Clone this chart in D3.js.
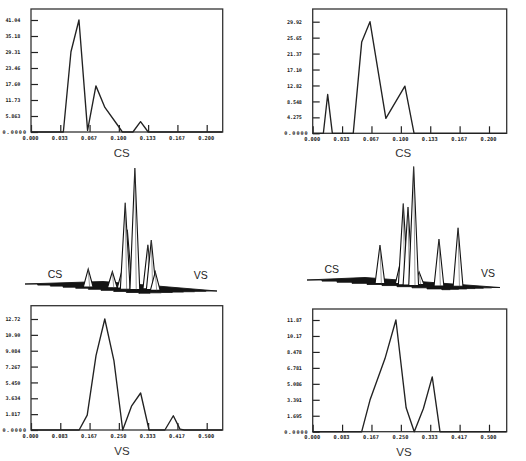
<!DOCTYPE html>
<html><head><meta charset="utf-8">
<script src="https://cdn.jsdelivr.net/npm/d3@7"></script>
<style>body{margin:0;background:#fff}svg{display:block}</style>
</head><body>
<svg id="c" width="526" height="461"></svg>
<script>
// ---------- data ----------
const csTickLabels = ["0.000","0.033","0.067","0.100","0.133","0.167","0.200"];
const vsTickLabels = ["0.000","0.083","0.167","0.250","0.333","0.417","0.500"];
const csTickValues = [0, 1/30, 2/30, 3/30, 4/30, 5/30, 6/30];
const vsTickValues = [0, 1/12, 2/12, 3/12, 4/12, 5/12, 6/12];

const yLabelsTL = ["0.0000","5.863","11.73","17.60","23.46","29.31","35.18","41.04"];
const yLabelsTR = ["0.0000","4.275","8.548","12.82","17.10","21.37","25.65","29.92"];
const yLabelsBL = ["0.0000","1.817","3.634","5.450","7.267","9.084","10.90","12.72"];
const yLabelsBR = ["0.0000","1.695","3.391","5.086","6.781","8.478","10.17","11.87"];

// CS distribution, left sample
const csLeftX = [0, 0.0368, 0.0455, 0.0546, 0.0644, 0.0739, 0.0841, 0.0993, 0.1040, 0.1160, 0.1247, 0.1334, 0.2180];
const csLeftY = [0, 0, 29.4, 41.04, 0.6, 16.9, 9.0, 2.2, 0, 0, 3.8, 0, 0];
// CS distribution, right sample
const csRightX = [0, 0.0121, 0.0170, 0.0223, 0.0460, 0.0556, 0.0650, 0.0830, 0.1046, 0.1150, 0.2200];
const csRightY = [0, 0, 10.4, 0, 0, 24.5, 29.92, 4.0, 12.65, 0, 0];
// VS distribution, left sample
const vsLeftX = [0, 0.137, 0.160, 0.185, 0.210, 0.236, 0.261, 0.286, 0.312, 0.336, 0.381, 0.405, 0.424, 0.436, 0.545];
const vsLeftY = [0, 0, 1.70, 8.52, 12.72, 7.95, 0, 2.73, 4.24, 0, 0, 1.63, 0.1, 0, 0];
// VS distribution, right sample
const vsRightX = [0, 0.139, 0.1625, 0.205, 0.236, 0.265, 0.288, 0.314, 0.339, 0.361, 0.550];
const vsRightY = [0, 0, 3.36, 7.77, 11.87, 2.54, 0, 2.47, 5.83, 0, 0];

// joint CS x VS peaks (3D views)
const jointLeftCS = [0.076, 0.100, 0.111, 0.132, 0.133, 0.143, 0.138, 0.152, 0.167];
const jointLeftVS = [0.164, 0.245, 0.273, 0.218, 0.229, 0.245, 0.354, 0.327, 0.300];
const jointLeftZ  = [3.5, 3.1, 3.5, 17.2, 11.8, 24.2, 8.7, 9.8, 3.6];
const jointRightCS = [0.085, 0.099, 0.118, 0.121, 0.132, 0.123, 0.155, 0.169];
const jointRightVS = [0.191, 0.300, 0.218, 0.245, 0.234, 0.338, 0.338, 0.436];
const jointRightZ  = [7.6, 4.0, 16.2, 15.5, 23.7, 2.4, 9.3, 11.6];
const csMax = 0.218, vsMax = 0.545;

// ---------- drawing ----------
const svg = d3.select("#c");
const ink = "#222";

const panels = [
  {x0:31, x1:222.7, yTop:9, y1:132, tickTopY:20, xTick6:206.7, xv:csTickValues, xl:csTickLabels, yl:yLabelsTL, xs:csLeftX, ys:csLeftY, title:"CS", tx:121.7, ty:157.3},
  {x0:312.7, x1:506.7, yTop:9, y1:133.3, tickTopY:21.7, xTick6:489, xv:csTickValues, xl:csTickLabels, yl:yLabelsTR, xs:csRightX, ys:csRightY, title:"CS", tx:403.3, ty:157.3},
  {x0:31, x1:222.7, yTop:305.7, y1:430, tickTopY:319, xTick6:206.7, xv:vsTickValues, xl:vsTickLabels, yl:yLabelsBL, xs:vsLeftX, ys:vsLeftY, title:"VS", tx:122, ty:455},
  {x0:312.7, x1:506.7, yTop:309, y1:431.7, tickTopY:320, xTick6:489, xv:vsTickValues, xl:vsTickLabels, yl:yLabelsBR, xs:vsRightX, ys:vsRightY, title:"VS", tx:404, ty:456}
];

panels.forEach(p => {
  const g = svg.append("g");
  const x = d3.scaleLinear().domain([0, p.xv[6]]).range([p.x0, p.xTick6]);
  const yTop = +p.yl[7];
  const yv = p.yl.map((d,i) => i * yTop / 7);
  const y = d3.scaleLinear().domain([0, yTop]).range([p.y1, p.tickTopY]);

  const xAxis = d3.axisBottom(x).tickValues(p.xv).tickFormat((d,i)=>p.xl[i]).tickSize(-7).tickPadding(4);
  const yAxis = d3.axisLeft(y).tickValues(yv).tickFormat((d,i)=>p.yl[i]).tickSize(-7).tickPadding(4);
  const gx = g.append("g").attr("transform",`translate(0,${p.y1})`).call(xAxis);
  const gy = g.append("g").attr("transform",`translate(${p.x0},0)`).call(yAxis);
  [gx, gy].forEach(a => {
    a.select(".domain").remove();
    a.selectAll("line").attr("stroke", ink).attr("stroke-width", 1.2);
    a.selectAll("text").attr("fill", ink).attr("font-family","DejaVu Sans Mono").attr("font-weight","bold");
  });
  gx.selectAll("text").attr("font-size","5.3px").attr("dx","-1");
  gy.selectAll("text").attr("font-size","5.1px").attr("text-anchor","start")
    .attr("x",(d,i)=> i===0 ? -28.5 : -25.6)
    .attr("textLength",(d,i)=> i===0 ? 23.5 : 14.8).attr("lengthAdjust","spacing");

  g.append("rect").attr("x",p.x0).attr("y",p.yTop).attr("width",p.x1-p.x0).attr("height",p.y1-p.yTop)
    .attr("fill","none").attr("stroke","#333").attr("stroke-width",1.3);

  const line = d3.line().x((d,i)=>x(p.xs[i])).y((d,i)=>y(p.ys[i]));
  g.append("path").attr("d", line(p.xs)).attr("fill","none").attr("stroke",ink).attr("stroke-width",1.35).attr("stroke-linejoin","round");

  g.append("text").attr("x",p.tx).attr("y",p.ty).attr("text-anchor","middle")
    .attr("font-family","Liberation Sans, Arial, sans-serif").attr("font-size","11.5px").attr("fill","#333").text(p.title);
});

// ---------- 3D views ----------
const views = [
  {L:[25,284], a:[114,9.5], b:[78,-2.5], zpx:5, cs:jointLeftCS, vs:jointLeftVS, z:jointLeftZ,
   csLab:[55,278.3], vsLab:[200.8,279.3]},
  {L:[307,280], a:[135,10], b:[58,-2.5], zpx:5, cs:jointRightCS, vs:jointRightVS, z:jointRightZ,
   csLab:[331.7,272.7], vsLab:[488,277.3]}
];

views.forEach(v => {
  const g = svg.append("g");
  const u = d3.scaleLinear().domain([0, csMax]).range([0,1]);
  const w = d3.scaleLinear().domain([0, vsMax]).range([0,1]);
  const zs = d3.scaleLinear().domain([0, 1]).range([0, v.zpx]);
  const proj = (uu, vv, h) => [v.L[0] + uu*v.a[0] + vv*v.b[0], v.L[1] + uu*v.a[1] + vv*v.b[1] - zs(h||0)];

  // base plane with stepped (grid) front edges
  const n = 9, m = 7;
  const pts = [proj(0,0)];
  for (let i=1;i<=n;i++){ const p0 = proj((i-1)/n,0), p1 = proj(i/n,0); pts.push([p1[0],p0[1]]); pts.push(p1); }
  for (let j=1;j<=m;j++){ const p0 = proj(1,(j-1)/m), p1 = proj(1,j/m); pts.push([p0[0],p1[1]]); pts.push(p1); }
  pts.push(proj(0,1));
  g.append("path").attr("d", d3.line()(pts)+"Z").attr("fill","#141414").attr("stroke","#141414").attr("stroke-width",0.9);

  // peaks, back to front
  const peaks = v.cs.map((c,i)=>({c, s:v.vs[i], z:v.z[i]}))
    .map(d => { const base = proj(u(d.c), w(d.s)); const top = proj(u(d.c), w(d.s), d.z); return {base, top}; })
    .sort((p,q)=>p.base[1]-q.base[1]);
  const hw = 4.9;
  peaks.forEach(pk => {
    const tri = [[pk.base[0]-hw, pk.base[1]+0.5], pk.top, [pk.base[0]+hw, pk.base[1]+0.5]];
    g.append("path").attr("d", d3.line()(tri)+"Z").attr("fill","#fff").attr("stroke","#111").attr("stroke-width",1.1).attr("stroke-linejoin","miter");
    g.append("path").attr("d", d3.line()([pk.top,[pk.base[0]+1.4, pk.base[1]+0.5]])).attr("stroke","#555").attr("stroke-width",0.6);
  });

  g.append("text").attr("x",v.csLab[0]).attr("y",v.csLab[1]).attr("text-anchor","middle")
    .attr("font-family","Liberation Sans, Arial, sans-serif").attr("font-size","10.5px").attr("fill","#222").text("CS");
  g.append("text").attr("x",v.vsLab[0]).attr("y",v.vsLab[1]).attr("text-anchor","middle")
    .attr("font-family","Liberation Sans, Arial, sans-serif").attr("font-size","10.5px").attr("fill","#222").text("VS");
});
</script>
</body></html>
